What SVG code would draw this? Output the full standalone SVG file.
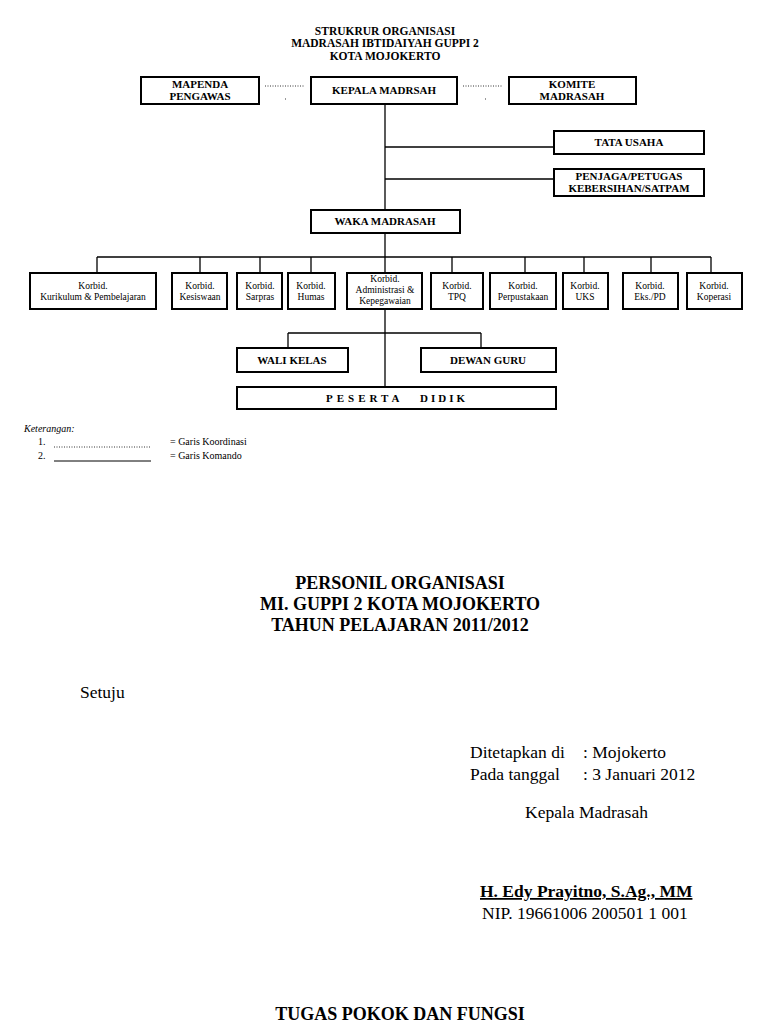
<svg xmlns="http://www.w3.org/2000/svg" width="768" height="1024" viewBox="0 0 768 1024">
<style>
.box{fill:#fff;stroke:#000;stroke-width:2}
.ln{stroke:#000;stroke-width:1.3;fill:none}
.dot{stroke:#000;stroke-width:0.8;stroke-dasharray:1 1.5;fill:none}
.t{font-family:"Liberation Serif",serif;fill:#000;text-anchor:middle}
.hb{font-size:11px;font-weight:bold}
.ttl{font-size:11.5px;font-weight:bold}
.sm{font-size:9.5px}
.big{font-size:18px;font-weight:bold}
.tx{font-family:"Liberation Serif",serif;fill:#000;font-size:17.5px}
.ps{font-family:"Liberation Serif",serif;fill:#000;font-size:11px;font-weight:bold;letter-spacing:4px}
</style>
<rect width="768" height="1024" fill="#fff"/>
<g id="title">
<text class="t ttl" x="385" y="35">STRUKRUR ORGANISASI</text>
<text class="t ttl" x="385" y="47">MADRASAH IBTIDAIYAH GUPPI 2</text>
<text class="t ttl" x="385" y="60">KOTA MOJOKERTO</text>
</g>
<g id="connectors">
<line class="dot" x1="265" y1="86" x2="305" y2="86"/>
<line class="dot" x1="285" y1="99" x2="287" y2="99"/>
<line class="dot" x1="463" y1="86" x2="503" y2="86"/>
<line class="dot" x1="485" y1="99" x2="487" y2="99"/>
<line class="ln" x1="385" y1="104" x2="385" y2="387"/>
<line class="ln" x1="385" y1="147" x2="554" y2="147"/>
<line class="ln" x1="385" y1="179" x2="554" y2="179"/>
<line class="ln" x1="97" y1="257" x2="711" y2="257"/>
<line class="ln" x1="97" y1="257" x2="97" y2="273"/>
<line class="ln" x1="200" y1="257" x2="200" y2="273"/>
<line class="ln" x1="260" y1="257" x2="260" y2="273"/>
<line class="ln" x1="311" y1="257" x2="311" y2="273"/>
<line class="ln" x1="452" y1="257" x2="452" y2="273"/>
<line class="ln" x1="525" y1="257" x2="525" y2="273"/>
<line class="ln" x1="584" y1="257" x2="584" y2="273"/>
<line class="ln" x1="651" y1="257" x2="651" y2="273"/>
<line class="ln" x1="711" y1="257" x2="711" y2="273"/>
<line class="ln" x1="288" y1="333" x2="481" y2="333"/>
<line class="ln" x1="288" y1="333" x2="288" y2="348"/>
<line class="ln" x1="481" y1="333" x2="481" y2="348"/>
</g>
<g id="mapenda"><rect class="box" x="141" y="77" width="118" height="27"/><text class="t hb" x="200" y="88">MAPENDA</text><text class="t hb" x="200" y="100">PENGAWAS</text></g>
<g id="kepala"><rect class="box" x="311" y="77" width="146" height="27"/><text class="t hb" x="384" y="94">KEPALA MADRSAH</text></g>
<g id="komite"><rect class="box" x="509" y="77" width="127" height="27"/><text class="t hb" x="572" y="88">KOMITE</text><text class="t hb" x="572" y="100">MADRASAH</text></g>
<g id="tatausaha"><rect class="box" x="554" y="131" width="150" height="23"/><text class="t hb" x="629" y="146">TATA USAHA</text></g>
<g id="penjaga"><rect class="box" x="554" y="169" width="150" height="27"/><text class="t hb" x="629" y="180">PENJAGA/PETUGAS</text><text class="t hb" x="629" y="192">KEBERSIHAN/SATPAM</text></g>
<g id="waka"><rect class="box" x="311" y="210" width="149" height="23"/><text class="t hb" x="385" y="225">WAKA MADRASAH</text></g>
<g id="k1"><rect class="box" x="30" y="273" width="126" height="36"/><text class="t sm" x="93" y="289">Korbid.</text><text class="t sm" x="93" y="300">Kurikulum &amp; Pembelajaran</text></g>
<g id="k2"><rect class="box" x="172" y="273" width="55" height="36"/><text class="t sm" x="200" y="289">Korbid.</text><text class="t sm" x="200" y="300">Kesiswaan</text></g>
<g id="k3"><rect class="box" x="237" y="273" width="45" height="36"/><text class="t sm" x="260" y="289">Korbid.</text><text class="t sm" x="260" y="300">Sarpras</text></g>
<g id="k4"><rect class="box" x="288" y="273" width="47" height="36"/><text class="t sm" x="311" y="289">Korbid.</text><text class="t sm" x="311" y="300">Humas</text></g>
<g id="k5"><rect class="box" x="347" y="273" width="75" height="36"/><text class="t sm" x="385" y="282">Korbid.</text><text class="t sm" x="385" y="293">Administrasi &amp;</text><text class="t sm" x="385" y="304">Kepegawaian</text></g>
<g id="k6"><rect class="box" x="431" y="273" width="52" height="36"/><text class="t sm" x="457" y="289">Korbid.</text><text class="t sm" x="457" y="300">TPQ</text></g>
<g id="k7"><rect class="box" x="490" y="273" width="66" height="36"/><text class="t sm" x="523" y="289">Korbid.</text><text class="t sm" x="523" y="300">Perpustakaan</text></g>
<g id="k8"><rect class="box" x="563" y="273" width="45" height="36"/><text class="t sm" x="585" y="289">Korbid.</text><text class="t sm" x="585" y="300">UKS</text></g>
<g id="k9"><rect class="box" x="623" y="273" width="55" height="36"/><text class="t sm" x="650" y="289">Korbid.</text><text class="t sm" x="650" y="300">Eks./PD</text></g>
<g id="k10"><rect class="box" x="687" y="273" width="55" height="36"/><text class="t sm" x="714" y="289">Korbid.</text><text class="t sm" x="714" y="300">Koperasi</text></g>
<g id="wali"><rect class="box" x="237" y="348" width="111" height="24"/><text class="t hb" x="292" y="364">WALI KELAS</text></g>
<g id="dewan"><rect class="box" x="421" y="348" width="135" height="24"/><text class="t hb" x="488" y="364">DEWAN GURU</text></g>
<g id="peserta"><rect class="box" x="237" y="387" width="319" height="22"/><text class="ps" x="326" y="402">PESERTA</text><text class="ps" x="420" y="402" style="letter-spacing:3px">DIDIK</text></g>
<g id="legend" font-family="Liberation Serif, serif" font-size="10">
<text x="24" y="432" font-style="italic">Keterangan:</text>
<text x="38" y="445">1.</text>
<line class="dot" x1="54" y1="447" x2="150" y2="447"/>
<text x="170" y="445">= Garis Koordinasi</text>
<text x="38" y="459">2.</text>
<line x1="54" y1="461" x2="151" y2="461" stroke="#000" stroke-width="1"/>
<text x="170" y="459">= Garis Komando</text>
</g>
<g id="personil">
<text class="t big" x="400" y="589">PERSONIL ORGANISASI</text>
<text class="t big" x="400" y="610">MI. GUPPI 2 KOTA MOJOKERTO</text>
<text class="t big" x="400" y="631">TAHUN PELAJARAN 2011/2012</text>
<text class="tx" x="80" y="698">Setuju</text>
<text class="tx" x="470" y="758">Ditetapkan di</text>
<text class="tx" x="583" y="758">: Mojokerto</text>
<text class="tx" x="470" y="780">Pada tanggal</text>
<text class="tx" x="583" y="780">: 3 Januari 2012</text>
<text class="tx" x="525" y="818">Kepala Madrasah</text>
<text class="tx" x="480" y="897" font-weight="bold" text-decoration="underline">H. Edy Prayitno, S.Ag., MM</text>
<text class="tx" x="482" y="919">NIP. 19661006 200501 1 001</text>
<text class="t big" x="400" y="1020">TUGAS POKOK DAN FUNGSI</text>
</g>
</svg>
